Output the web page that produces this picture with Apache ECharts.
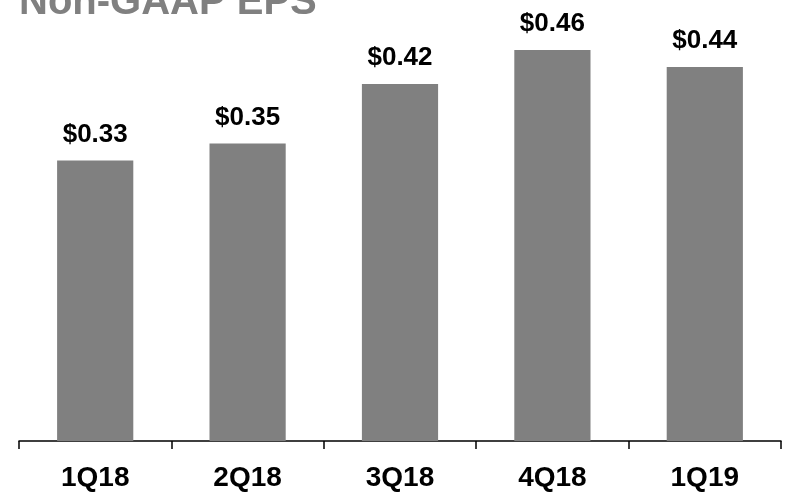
<!DOCTYPE html>
<html>
<head>
<meta charset="utf-8">
<script src="https://cdn.jsdelivr.net/npm/echarts@6/dist/echarts.min.js"></script>
<style>
  html, body { margin: 0; padding: 0; background: #fff; }
  #chart { width: 786px; height: 492px; }
</style>
</head>
<body>
<div id="chart"></div>
<script>
const quarters = ['1Q18', '2Q18', '3Q18', '4Q18', '1Q19'];
const epsValues = [0.33, 0.35, 0.42, 0.46, 0.44];

const chart = echarts.init(document.getElementById('chart'));

const option = {
  animation: false,
  title: {
    text: 'Non-GAAP EPS',
    left: 19,
    top: -17,
    padding: 0,
    textStyle: {
      fontFamily: 'Liberation Sans',
      fontWeight: 'bold',
      fontSize: 40,
      color: '#808080',
    },
  },
  grid: {
    left: 19,
    right: 5,
    top: 16,
    bottom: 49,
    containLabel: false,
  },
  xAxis: {
    type: 'category',
    data: quarters,
    axisLine: {
      lineStyle: { color: '#000', width: 1.5 },
    },
    axisTick: {
      show: true,
      length: 8,
      lineStyle: { color: '#000', width: 1.5 },
    },
    axisLabel: {
      margin: 23,
      fontFamily: 'Liberation Sans',
      fontWeight: 'bold',
      fontSize: 28,
      color: '#000',
    },
  },
  yAxis: {
    type: 'value',
    min: 0,
    max: 0.5,
    show: false,
    splitLine: { show: false },
  },
  series: [
    {
      type: 'bar',
      data: epsValues,
      barWidth: '50%',
      itemStyle: { color: '#808080' },
      label: {
        show: true,
        position: 'top',
        distance: 13,
        formatter: (p) => '$' + p.value.toFixed(2),
        fontFamily: 'Liberation Sans',
        fontWeight: 'bold',
        fontSize: 26,
        color: '#000',
      },
    },
  ],
};

chart.setOption(option);
</script>
</body>
</html>
